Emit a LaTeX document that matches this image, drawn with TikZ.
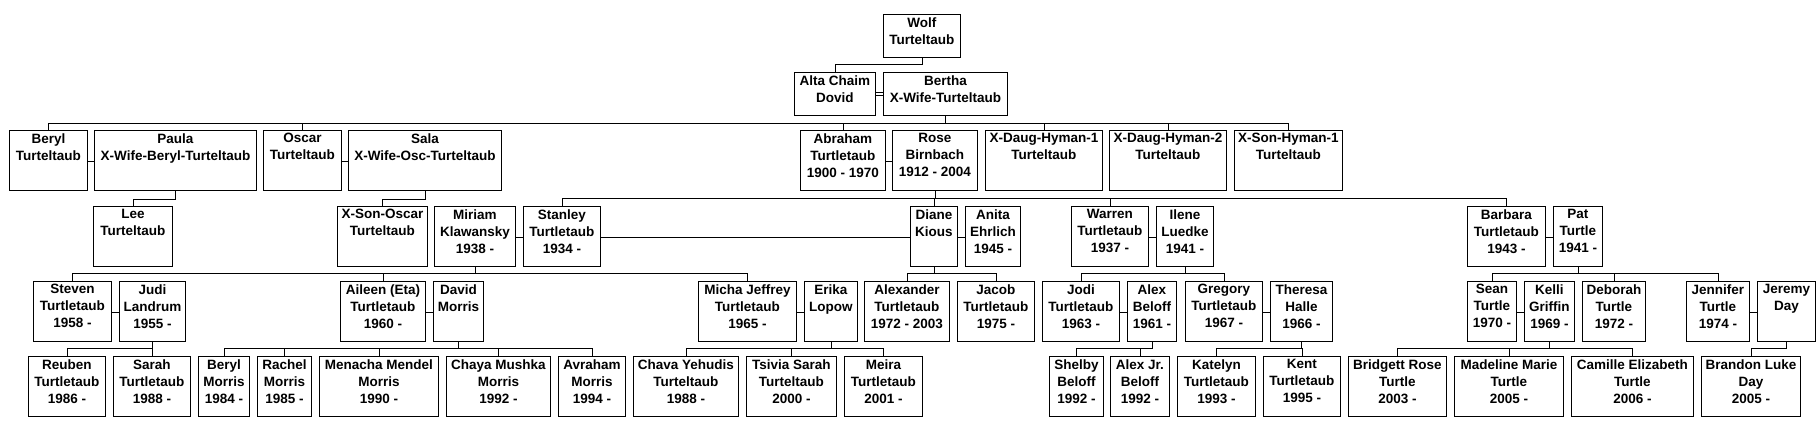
\documentclass[tikz,border=0pt]{standalone}
\usepackage{fontspec}
\setmainfont{Liberation Sans}
\begin{document}
\begin{tikzpicture}[x=1pt,y=-1pt,line width=0.9pt,
  mar/.style={double,double distance=2pt,line width=0.6pt}]
\useasboundingbox (0,0) rectangle (1819,434);
\fill[white] (0,0) rectangle (1819,434);
\newcommand\pb[6]{\node[draw,inner sep=0pt,anchor=north west] (#1) at (#2,#4)
 {\begin{minipage}[t][\dimexpr#5pt-#4pt\relax][t]{\dimexpr#3pt-#2pt\relax}\centering
 \fontsize{13.5}{17}\selectfont\bfseries\vspace*{3pt}\makebox[0pt]{\parbox{200pt}{\centering #6}}\end{minipage}};}
% row 0-1
\pb{wolf}{883}{960}{14}{57}{Wolf\\Turteltaub}
\pb{alta}{794}{875}{72}{115}{Alta Chaim\\Dovid}
\pb{bertha}{883}{1007}{72}{115}{Bertha\\X-Wife-Turteltaub}
% row 2
\pb{beryl}{9}{87}{130}{190}{Beryl\\Turteltaub}
\pb{paula}{94}{256}{130}{190}{Paula\\X-Wife-Beryl-Turteltaub}
\pb{oscar}{263}{341}{130}{190}{Oscar\\Turteltaub}
\pb{sala}{348}{501}{130}{190}{Sala\\X-Wife-Osc-Turteltaub}
\pb{abraham}{800}{885}{130}{190}{Abraham\\Turtletaub\\1900 - 1970}
\pb{rose}{892}{977}{130}{190}{Rose\\Birnbach\\1912 - 2004}
\pb{xdone}{985}{1102}{130}{190}{X-Daug-Hyman-1\\Turteltaub}
\pb{xdtwo}{1109}{1226}{130}{190}{X-Daug-Hyman-2\\Turteltaub}
\pb{xsone}{1234}{1342}{130}{190}{X-Son-Hyman-1\\Turteltaub}
% row 3
\pb{lee}{93}{172}{206}{266}{Lee\\Turteltaub}
\pb{xso}{337}{427}{206}{266}{X-Son-Oscar\\Turteltaub}
\pb{miriam}{434}{515}{206}{266}{Miriam\\Klawansky\\1938 -}
\pb{stanley}{523}{600}{206}{266}{Stanley\\Turtletaub\\1934 -}
\pb{diane}{910}{957}{206}{266}{Diane\\Kious}
\pb{anita}{965}{1020}{206}{266}{Anita\\Ehrlich\\1945 -}
\pb{warren}{1071}{1148}{206}{266}{Warren\\Turtletaub\\1937 -}
\pb{ilene}{1156}{1213}{206}{266}{Ilene\\Luedke\\1941 -}
\pb{barbara}{1467}{1545}{206}{266}{Barbara\\Turtletaub\\1943 -}
\pb{pat}{1553}{1602}{206}{266}{Pat\\Turtle\\1941 -}
% row 4
\pb{steven}{33}{111}{281}{341}{Steven\\Turtletaub\\1958 -}
\pb{judi}{119}{185}{281}{341}{Judi\\Landrum\\1955 -}
\pb{aileen}{340}{425}{281}{341}{Aileen (Eta)\\Turtletaub\\1960 -}
\pb{david}{433}{483}{281}{341}{David\\Morris}
\pb{micha}{698}{796}{281}{341}{Micha Jeffrey\\Turtletaub\\1965 -}
\pb{erika}{804}{857}{281}{341}{Erika\\Lopow}
\pb{alexander}{864}{949}{281}{341}{Alexander\\Turtletaub\\1972 - 2003}
\pb{jacob}{957}{1034}{281}{341}{Jacob\\Turtletaub\\1975 -}
\pb{jodi}{1042}{1119}{281}{341}{Jodi\\Turtletaub\\1963 -}
\pb{alex}{1127}{1176}{281}{341}{Alex\\Beloff\\1961 -}
\pb{gregory}{1185}{1262}{281}{341}{Gregory\\Turtletaub\\1967 -}
\pb{theresa}{1270}{1332}{281}{341}{Theresa\\Halle\\1966 -}
\pb{sean}{1467}{1516}{281}{341}{Sean\\Turtle\\1970 -}
\pb{kelli}{1524}{1574}{281}{341}{Kelli\\Griffin\\1969 -}
\pb{deborah}{1582}{1645}{281}{341}{Deborah\\Turtle\\1972 -}
\pb{jennifer}{1686}{1749}{281}{341}{Jennifer\\Turtle\\1974 -}
\pb{jeremy}{1757}{1815}{281}{341}{Jeremy\\Day}
% row 5
\pb{reuben}{28}{105}{356}{416}{Reuben\\Turtletaub\\1986 -}
\pb{sarah}{113}{190}{356}{416}{Sarah\\Turtletaub\\1988 -}
\pb{berylm}{198}{249}{356}{416}{Beryl\\Morris\\1984 -}
\pb{rachel}{257}{311}{356}{416}{Rachel\\Morris\\1985 -}
\pb{menacha}{319}{438}{356}{416}{Menacha Mendel\\Morris\\1990 -}
\pb{chaya}{446}{550}{356}{416}{Chaya Mushka\\Morris\\1992 -}
\pb{avraham}{558}{625}{356}{416}{Avraham\\Morris\\1994 -}
\pb{chava}{633}{738}{356}{416}{Chava Yehudis\\Turteltaub\\1988 -}
\pb{tsivia}{746}{836}{356}{416}{Tsivia Sarah\\Turteltaub\\2000 -}
\pb{meira}{844}{922}{356}{416}{Meira\\Turtletaub\\2001 -}
\pb{shelby}{1049}{1103}{356}{416}{Shelby\\Beloff\\1992 -}
\pb{alexjr}{1110}{1169}{356}{416}{Alex Jr.\\Beloff\\1992 -}
\pb{katelyn}{1177}{1255}{356}{416}{Katelyn\\Turtletaub\\1993 -}
\pb{kent}{1263}{1340}{356}{416}{Kent\\Turtletaub\\1995 -}
\pb{bridgett}{1348}{1446}{356}{416}{Bridgett Rose\\Turtle\\2003 -}
\pb{madeline}{1454}{1563}{356}{416}{Madeline Marie\\Turtle\\2005 -}
\pb{camille}{1571}{1693}{356}{416}{Camille Elizabeth\\Turtle\\2006 -}
\pb{brandon}{1701}{1800}{356}{416}{Brandon Luke\\Day\\2005 -}
% marriages
\foreach \a/\b in {alta/bertha,beryl/paula,oscar/sala,abraham/rose,miriam/stanley,
  stanley/diane,diane/anita,warren/ilene,barbara/pat,steven/judi,aileen/david,
  micha/erika,jodi/alex,gregory/theresa,sean/kelli,jennifer/jeremy}
  \draw[mar] (\a.east) -- (\b.west);
% descent
\draw (wolf.south) -- ++(0,7) -| (alta.north);
\draw (bertha.south) -- ++(0,8);
\draw (beryl.north) -- ++(0,-7) -| (xsone.north);
\foreach \n in {oscar,abraham,xdone,xdtwo} \draw (\n.north) -- ++(0,-7);
\draw (lee.north) -- ++(0,-7) -| (paula.south);
\draw (xso.north) -- ++(0,-7) -| (sala.south);
\draw (rose.south) -- ++(0,8);
\draw (stanley.north) -- ++(0,-8) -| (barbara.north);
\foreach \n in {diane,warren} \draw (\n.north) -- ++(0,-8);
\draw (miriam.south) -- ++(0,7);
\draw (steven.north) -- ++(0,-8) -| (micha.north);
\draw (aileen.north) -- ++(0,-8);
\draw (diane.south) -- ++(0,7);
\draw (alexander.north) -- ++(0,-8) -| (jacob.north);
\draw (ilene.south) -- ++(0,7);
\draw (jodi.north) -- ++(0,-8) -| (gregory.north);
\draw (pat.south) -- ++(0,7);
\draw (sean.north) -- ++(0,-8) -| (jennifer.north);
\draw (deborah.north) -- ++(0,-8);
\draw (judi.south) -- ++(0,7);
\draw (reuben.north) -- ++(0,-8) -| (sarah.north);
\draw (david.south) -- ++(0,7);
\draw (berylm.north) -- ++(0,-8) -| (avraham.north);
\foreach \n in {rachel,menacha,chaya} \draw (\n.north) -- ++(0,-8);
\draw (erika.south) -- ++(0,7);
\draw (chava.north) -- ++(0,-8) -| (meira.north);
\draw (tsivia.north) -- ++(0,-8);
\draw (shelby.north) -- ++(0,-8) -| (alex.south);
\draw (alexjr.north) -- ++(0,-8);
\draw (katelyn.north) -- ++(0,-8) -| (theresa.south);
\draw (kent.north) -- ++(0,-8);
\draw (kelli.south) -- ++(0,7);
\draw (bridgett.north) -- ++(0,-8) -| (camille.north);
\draw (madeline.north) -- ++(0,-8);
\draw (brandon.north) -- ++(0,-8) -| (jeremy.south);
\end{tikzpicture}
\end{document}
